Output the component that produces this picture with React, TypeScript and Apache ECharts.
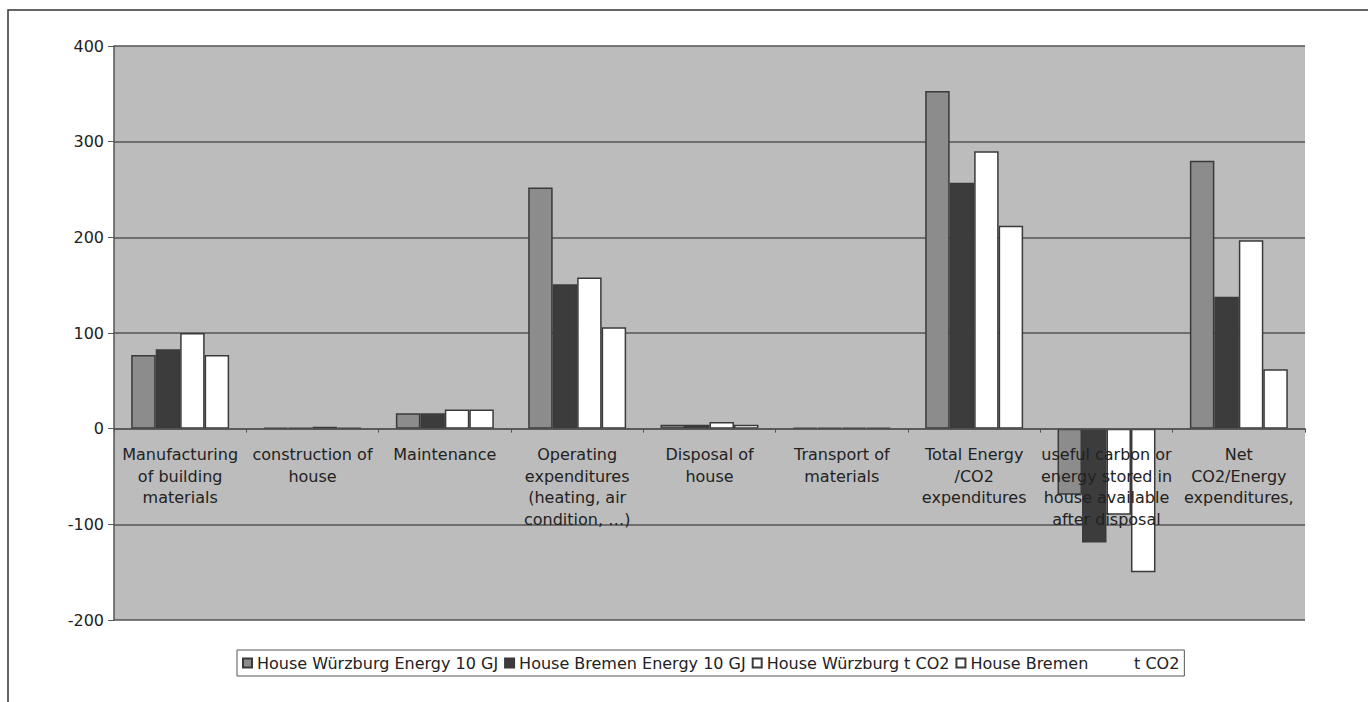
import React, { useEffect, useRef } from "react";
import * as echarts from "echarts";

// Life-cycle energy / CO2 balance of two timber houses
const categories = [
  "Manufacturing\nof building\nmaterials",
  "construction of\nhouse",
  "Maintenance",
  "Operating\nexpenditures\n(heating, air\ncondition, …)",
  "Disposal of\nhouse",
  "Transport of\nmaterials",
  "Total Energy\n/CO2\nexpenditures",
  "useful carbon or\nenergy stored in\nhouse available\nafter disposal",
  "Net\nCO2/Energy\nexpenditures,",
];

const seriesNames = [
  "House Würzburg Energy 10 GJ",
  "House Bremen Energy 10 GJ",
  "House Würzburg t CO2",
  "House Bremen\u00a0\u00a0\u00a0\u00a0\u00a0\u00a0\u00a0\u00a0\u00a0t CO2",
];

const wuerzburgEnergy = [77, 1, 16, 252, 4, 1, 353, -69, 280];
const bremenEnergy = [83, 1, 16, 151, 4, 1, 257, -119, 138];
const wuerzburgCO2 = [100, 2, 20, 158, 7, 1, 290, -90, 197];
const bremenCO2 = [77, 1, 20, 106, 4, 1, 212, -150, 62];

const yTicks = { min: -200, max: 400, interval: 100 };

const FONT = "DejaVu Sans";
const BORDER = "#3a3a3a";
const fills = ["#8c8c8c", "#3c3c3c", "#ffffff", "#ffffff"];

export default function App() {
  const ref = useRef<HTMLDivElement>(null);

  useEffect(() => {
    if (!ref.current) return;
    const chart = echarts.init(ref.current, null, { renderer: "svg" });
    const values = [wuerzburgEnergy, bremenEnergy, wuerzburgCO2, bremenCO2];

    chart.setOption({
      animation: false,
      backgroundColor: "#ffffff",
      textStyle: { fontFamily: FONT },
      graphic: [
        {
          type: "rect",
          shape: { x: 8, y: 10, width: 1420, height: 740 },
          style: { fill: "none", stroke: "#333333", lineWidth: 1.5 },
          silent: true,
        },
      ],
      grid: {
        left: 114,
        right: 63,
        top: 46,
        bottom: 82,
        show: true,
        backgroundColor: "#bcbcbc",
        borderWidth: 0,
        outerBoundsMode: "none",
        containLabel: false,
      },
      legend: {
        left: 237,
        top: 650,
        itemWidth: 9,
        itemHeight: 9,
        itemGap: 6,
        padding: [5, 5],
        borderColor: "#555555",
        borderWidth: 1,
        icon: "rect",
        textStyle: { fontFamily: FONT, fontSize: 16, color: "#222222" },
        data: seriesNames,
      },
      xAxis: {
        type: "category",
        data: categories,
        z: 3,
        axisLine: { onZero: true, lineStyle: { color: "#555555", width: 1.5 } },
        axisTick: { show: true, length: 4, lineStyle: { color: "#555555" } },
        axisLabel: {
          interval: 0,
          // category names sit just under the zero line, as in the spreadsheet original
          margin: -176,
          fontSize: 16,
          lineHeight: 21.5,
          color: "#222222",
          fontFamily: FONT,
        },
        splitLine: { show: false },
      },
      yAxis: {
        type: "value",
        min: yTicks.min,
        max: yTicks.max,
        interval: yTicks.interval,
        axisLine: { show: true, lineStyle: { color: "#555555", width: 1.5 } },
        axisTick: { show: true, length: 6, lineStyle: { color: "#555555" } },
        axisLabel: { fontSize: 16, color: "#222222", fontFamily: FONT, margin: 10 },
        splitLine: { lineStyle: { color: "#555555", width: 1.5 } },
      },
      series: values.map((data, i) => ({
        name: seriesNames[i],
        type: "bar",
        data,
        barGap: "0%",
        barCategoryGap: "26%",
        itemStyle: { color: fills[i], borderColor: BORDER, borderWidth: 1.5 },
      })),
    });

    return () => chart.dispose();
  }, []);

  return (
    <div
      ref={ref}
      style={{ position: "absolute", left: 0, top: 0, width: 1368, height: 702 }}
    />
  );
}
